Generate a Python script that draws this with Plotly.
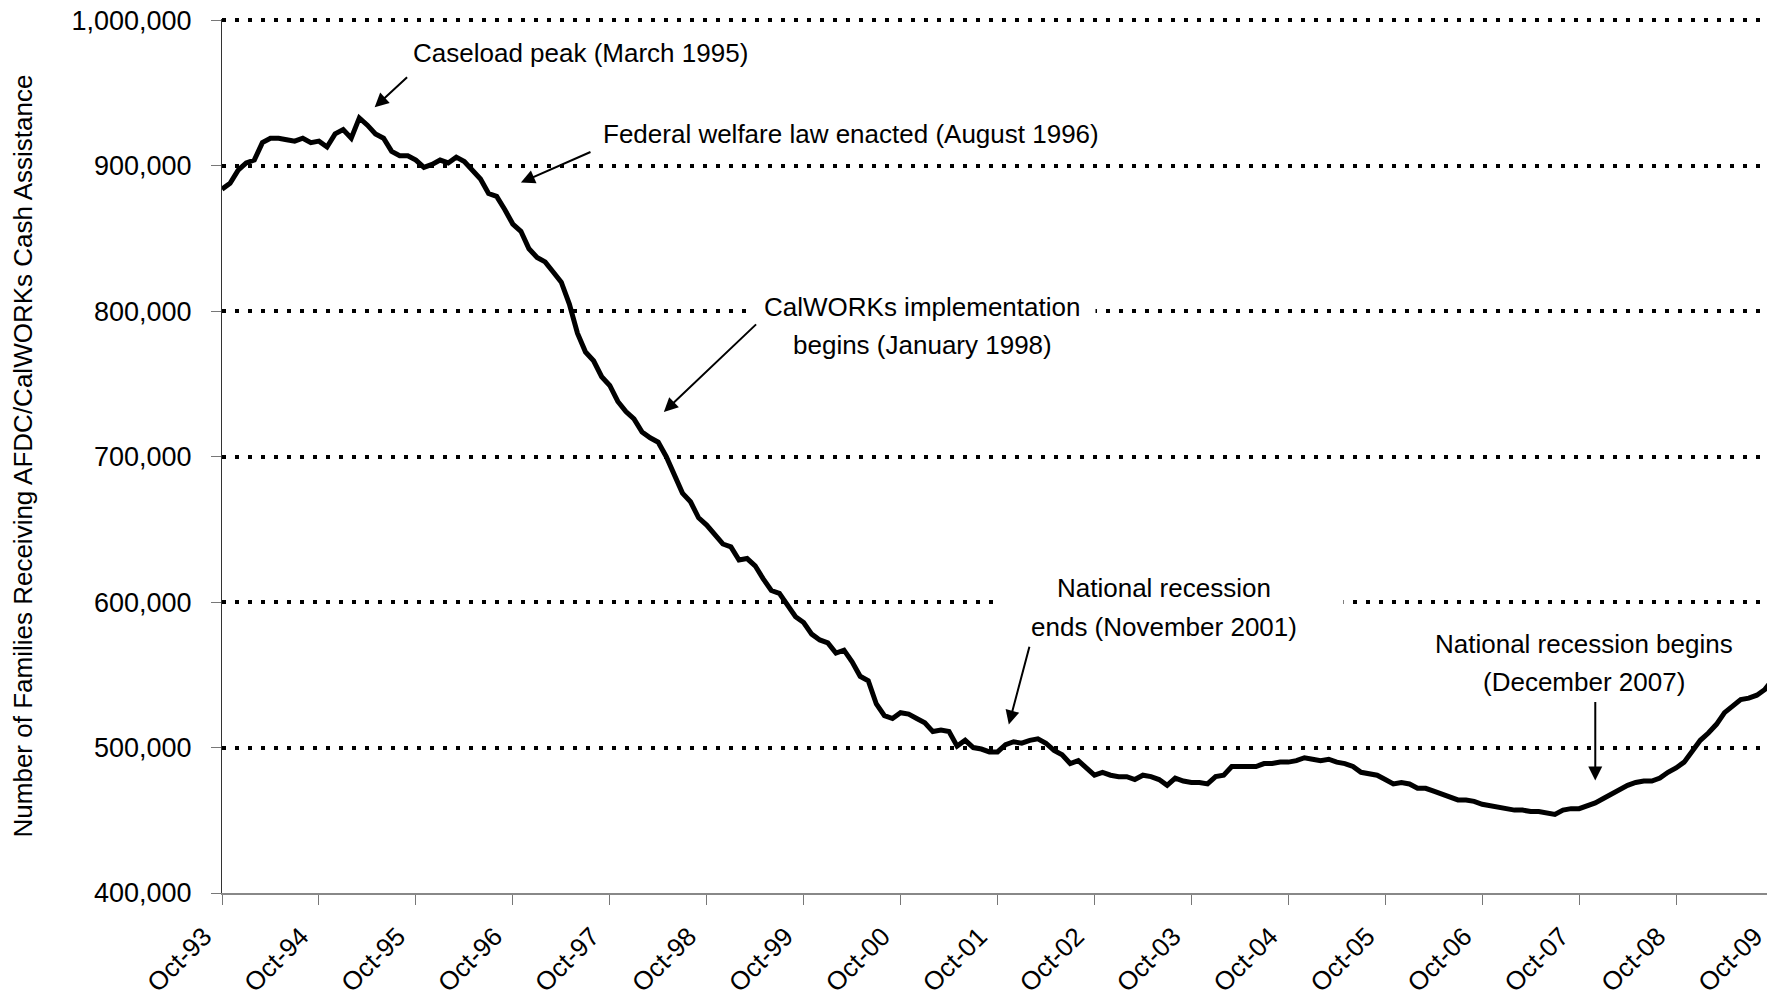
import pandas as pd
import plotly.graph_objects as go

# Monthly caseload, October 1993 onward (families receiving AFDC/CalWORKs cash assistance)
caseload = [
    884000, 888000, 897000, 902000, 904000, 916000, 919000, 919000, 918000, 917000,
    919000, 916000, 917000, 913000, 922000, 925000, 919000, 933000, 928000, 922000,
    919000, 910000, 907000, 907000, 904000, 899000, 901000, 904000, 902000, 906000,
    903000, 897000, 891000, 881000, 879000, 870000, 860000, 855000, 843000, 837000,
    834000, 827000, 820000, 805000, 785000, 772000, 766000, 755000, 749000, 738000,
    731000, 726000, 717000, 713000, 710000, 700000, 688000, 675000, 669000, 658000,
    653000, 646000, 640000, 638000, 629000, 630000, 625000, 616000, 608000, 606000,
    598000, 590000, 586000, 578000, 574000, 572000, 565000, 567000, 559000, 549000,
    546000, 530000, 522000, 520000, 524000, 523000, 520000, 517000, 511000, 512000,
    511000, 501000, 505000, 500000, 499000, 497000, 497000, 502000, 504000, 503000,
    505000, 506000, 503000, 498000, 495000, 489000, 491000, 486000, 481000, 483000,
    481000, 480000, 480000, 478000, 481000, 480000, 478000, 474000, 479000, 477000,
    476000, 476000, 475000, 480000, 481000, 487000, 487000, 487000, 487000, 489000,
    489000, 490000, 490000, 491000, 493000, 492000, 491000, 492000, 490000, 489000,
    487000, 483000, 482000, 481000, 478000, 475000, 476000, 475000, 472000, 472000,
    470000, 468000, 466000, 464000, 464000, 463000, 461000, 460000, 459000, 458000,
    457000, 457000, 456000, 456000, 455000, 454000, 457000, 458000, 458000, 460000,
    462000, 465000, 468000, 471000, 474000, 476000, 477000, 477000, 479000, 483000,
    486000, 490000, 497000, 505000, 510000, 516000, 524000, 528000, 533000, 534000,
    536000, 540000, 547000,
]
months = pd.date_range("1993-10-01", periods=len(caseload), freq="MS").strftime("%b-%y").tolist()
tick_labels = months[::12]
y_ticks = [400000, 500000, 600000, 700000, 800000, 900000, 1000000]

FONT = "Liberation Sans, Arial, sans-serif"

fig = go.Figure()
fig.add_trace(go.Scatter(
    x=months, y=caseload, mode="lines",
    line=dict(color="black", width=5, shape="linear"),
    hoverinfo="skip", showlegend=False,
))

# text lines: (text, x index, y value, xanchor)
note_lines = [
    ("Caseload peak (March 1995)", 23.4, 977700, "left"),
    ("Federal welfare law enacted (August 1996)", 46.9, 922000, "left"),
    ("CalWORKs implementation", 86.7, 802900, "center"),
    ("begins (January 1998)", 86.7, 776800, "center"),
    ("National recession", 116.6, 610000, "center"),
    ("ends (November 2001)", 116.6, 582900, "center"),
    ("National recession begins", 168.6, 571400, "center"),
    ("(December 2007)", 168.6, 545000, "center"),
]
# white text boxes that interrupt the dotted gridlines: (x index, y value, width px)
text_boxes = [
    (86.7, 800000, 346),
    (117.2, 600000, 349),
]
# arrows: (head x, head y, tail x, tail y)
arrows = [
    (18.9, 940300, 23.1, 961900),
    (37.0, 888500, 45.8, 910000),
    (54.7, 730800, 66.3, 792000),
    (97.4, 515900, 100.0, 570300),
    (170.0, 477400, 170.0, 532400),
]

annotations = []
for x, y, w in text_boxes:
    annotations.append(dict(text=" ", x=x, y=y, xref="x", yref="y", showarrow=False,
                            xanchor="center", yanchor="middle", width=w, height=10,
                            bgcolor="white", borderpad=0, font=dict(size=6)))
for text, x, y, xa in note_lines:
    annotations.append(dict(text=text, x=x, y=y, xref="x", yref="y", showarrow=False,
                            xanchor=xa, yanchor="middle", align="center",
                            font=dict(family=FONT, size=26, color="black")))
for hx, hy, tx, ty in arrows:
    annotations.append(dict(text="", x=hx, y=hy, ax=tx, ay=ty, xref="x", yref="y",
                            axref="x", ayref="y", showarrow=True, arrowhead=2,
                            arrowsize=1.4, arrowwidth=2, arrowcolor="black"))

# the page body adds an 8px offset, so the figure is 8px smaller on each axis
fig.update_layout(
    width=1767, height=995,
    margin=dict(l=214, r=2, t=11, b=110),
    paper_bgcolor="white", plot_bgcolor="white",
    annotations=annotations,
    font=dict(family=FONT, color="black"),
)
fig.update_xaxes(
    type="category", range=[0, len(caseload) - 1], automargin=False,
    tickmode="array", tickvals=tick_labels, ticktext=tick_labels,
    tickangle=-45, tickfont=dict(family=FONT, size=26, color="black"),
    ticklabelshift=-18, ticklabelstandoff=6, ticklabeloverflow="allow",
    ticks="outside", ticklen=10, tickcolor="#777", tickwidth=1,
    showgrid=False, showline=True, linecolor="#888", linewidth=2,
    zeroline=False,
)
fig.update_yaxes(
    range=[400000, 1001000], tickmode="array", tickvals=y_ticks, automargin=False,
    tickformat=",d", tickfont=dict(family=FONT, size=27, color="black"),
    ticks="outside", ticklen=10, tickcolor="#777", tickwidth=1,
    ticklabelstandoff=14, ticklabeloverflow="allow",
    showgrid=True, gridcolor="black", gridwidth=4, griddash="4px,9px",
    showline=True, linecolor="#333", linewidth=1, zeroline=False,
    title=dict(text="Number of Families Receiving AFDC/CalWORKs Cash Assistance",
               font=dict(family=FONT, size=26, color="black"), standoff=33),
)

fig.write_html("out.html")
